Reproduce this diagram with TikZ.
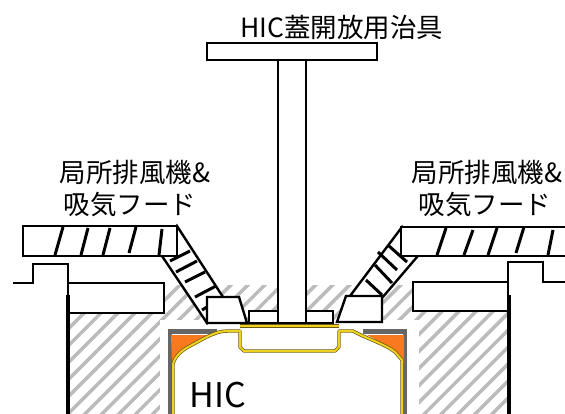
\documentclass[tikz,border=0pt]{standalone}
\usepackage{fontspec}
\setmainfont{Noto Sans CJK JP}
\usetikzlibrary{patterns.meta}
\definecolor{hatchgray}{HTML}{BBBBBB}
\definecolor{hicgray}{HTML}{666666}
\definecolor{hicorange}{HTML}{F97A1E}
\definecolor{hicyellow}{HTML}{EFD21E}
\definecolor{hicedge}{HTML}{6B5A16}
\tikzset{
	part/.style={draw=black, line width=2.4pt, fill=white, line join=miter},
	rib/.style={line width=3pt, black},
	shell/.style={line width=3.4pt, hicedge, line join=round},
	shellin/.style={line width=2pt, hicyellow, line join=round},
	label/.style={font=\fontsize{26.5}{30}\selectfont, inner sep=0pt}
}
\begin{document}
\begin{tikzpicture}[x=1pt, y=-1pt]
\useasboundingbox (0, 0) rectangle (565, 414);

% hatched concrete
\fill[pattern={Lines[angle=45, distance=12pt, line width=3.5pt]}, pattern color=hatchgray]
	(68, 285) rectangle (508, 414);
\fill[white] (160, 320) rectangle (419, 414);

% HIC shell
\fill[hicgray] (168, 329) rectangle (217, 414);
\fill[hicgray] (363, 329) rectangle (407, 414);
\fill[white] (172, 334) rectangle (217, 414);
\fill[white] (363, 334) rectangle (403, 414);
\fill[hicorange] (171, 335) -- (216, 335) -- (207, 337) .. controls (195, 342) and (180, 348) .. (172, 364) -- cycle;
\fill[hicorange] (367, 335) -- (404, 335) -- (404, 364) .. controls (395, 350) and (385, 345) .. (367, 335);
\foreach \linestyle in {shell, shellin}
	\draw[\linestyle] (173, 414) -- (173, 364) .. controls (175, 356) and (182, 350) .. (190, 346)
		.. controls (205, 338) and (215, 331) .. (228, 331)
		-- (240, 331) -- (240, 347) -- (244, 351) -- (335, 351) -- (339, 347) -- (339, 331)
		-- (353, 331) .. controls (365, 338) and (385, 344) .. (395, 352) -- (402, 360) -- (402, 414);
\foreach \linestyle in {shell, shellin}
	\draw[\linestyle] (240, 326) -- (339, 326);

% jig
\node[label] (jiglabel) at (342, 27) {HIC蓋開放用治具};
\draw[part] (207, 43) rectangle (377, 60);
\draw[part] (278, 60) rectangle (306, 323);
\draw[part] (249, 311) rectangle (278, 323);
\draw[part] (306, 311) rectangle (333, 323);

% left hood
\draw[part] (177, 226) -- (223, 297) -- (207, 323) -- (162, 256) -- cycle;
\draw[part] (23, 226) rectangle (177, 256);
\foreach \xa/\ya/\xb/\yb in {
	63/227/55/255,
	88/228/81/255,
	110/228/103/255,
	136/227/129/253,
	162/229/159/255}
	\draw[rib] (\xa, \ya) -- (\xb, \yb);
\foreach \xa/\ya/\xb/\yb in {
	170/261/190/251,
	176/272/197/261,
	185/282/205/272,
	195/297/216/286,
	202/310/207/307}
	\draw[rib] (\xa, \ya) -- (\xb, \yb);
\draw[part] (207, 297) -- (239, 297) -- (247, 323) -- (207, 323) -- cycle;
\node[label] (hoodleft) at (135, 172) {局所排風機\&};
\node[label] (ductleft) at (130, 205) {吸気フード};

% right hood
\draw[part] (402, 227) -- (417, 257) -- (382, 298) -- (350, 296) -- cycle;
\draw[part] (565, 227) -- (401, 227) -- (401, 256) -- (565, 256);
\foreach \xa/\ya/\xb/\yb in {
	446/228/437/255,
	473/230/464/255,
	497/228/488/255,
	524/227/516/253,
	553/230/548/255}
	\draw[rib] (\xa, \ya) -- (\xb, \yb);
\foreach \xa/\ya/\xb/\yb in {
	389/246/407/262,
	378/252/397/270,
	375/265/392/283,
	366/280/382/295}
	\draw[rib] (\xa, \ya) -- (\xb, \yb);
\draw[part] (346, 296) -- (382, 296) -- (382, 322) -- (337, 322) -- cycle;
\node[label] (hoodright) at (487, 172) {局所排風機\&};
\node[label] (ductright) at (485, 205) {吸気フード};

% walls
\draw[part] (68, 283) rectangle (164, 313);
\draw[part] (413, 282) rectangle (508, 311);
\draw[line width=2.4pt] (13, 283) -- (33, 283) -- (33, 264) -- (68, 264) -- (68, 295);
\draw[line width=2.4pt] (565, 282) -- (543, 282) -- (543, 262) -- (508, 262) -- (508, 295);
\draw[line width=4.5pt] (68, 295) -- (68, 414);
\draw[line width=4.5pt] (509, 295) -- (509, 414);

\node[font=\fontsize{34}{38}\selectfont, inner sep=0pt] (hiclabel) at (218, 395) {HIC};

\end{tikzpicture}
\end{document}
